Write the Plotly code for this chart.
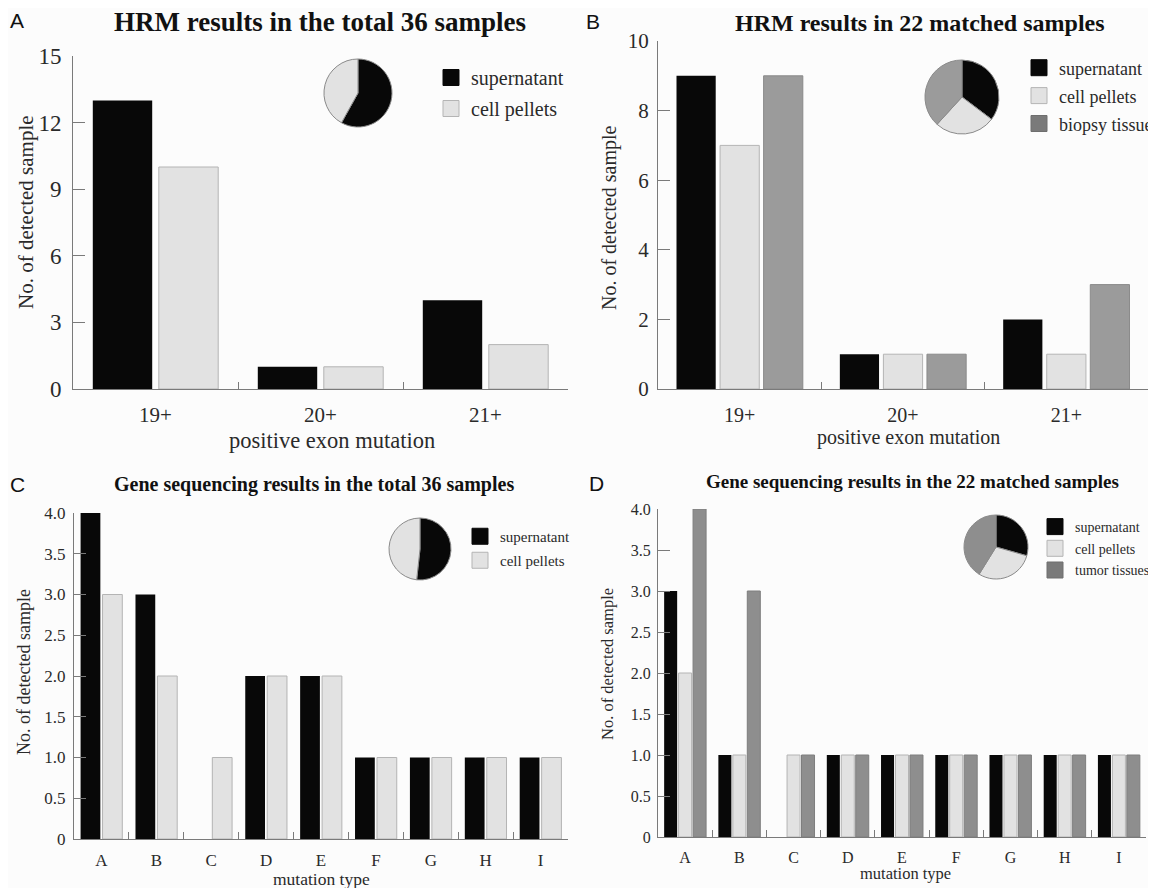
import plotly.graph_objects as go

# page body has an 8px default margin: the figure is sized so that the page
# exactly fills the 1156x888 window region it is shown in
REF_W, REF_H = 1156, 888
OFF = 8
W, H = REF_W - OFF, REF_H - OFF

# ---------------- data ----------------
hrm_cats = ["19+", "20+", "21+"]
hrm36_supernatant = [13, 1, 4]
hrm36_cell_pellets = [10, 1, 2]
hrm22_supernatant = [9, 1, 2]
hrm22_cell_pellets = [7, 1, 1]
hrm22_biopsy_tissue = [9, 1, 3]

seq_cats = ["A", "B", "C", "D", "E", "F", "G", "H", "I"]
seq36_supernatant = [4, 3, 0, 2, 2, 1, 1, 1, 1]
seq36_cell_pellets = [3, 2, 1, 2, 2, 1, 1, 1, 1]
seq22_supernatant = [3, 1, 0, 1, 1, 1, 1, 1, 1]
seq22_cell_pellets = [2, 1, 1, 1, 1, 1, 1, 1, 1]
seq22_tumor_tissues = [4, 3, 1, 1, 1, 1, 1, 1, 1]

hrm36_yticks = [0, 3, 6, 9, 12, 15]
hrm22_yticks = [0, 2, 4, 6, 8, 10]
seq_yticks = [0, 0.5, 1.0, 1.5, 2.0, 2.5, 3.0, 3.5, 4.0]
seq_yticktext = ["0", "0.5", "1.0", "1.5", "2.0", "2.5", "3.0", "3.5", "4.0"]

# ---------------- styles ----------------
SERIF = "Liberation Serif, Times New Roman, serif"
SANS = "Liberation Sans, Arial, sans-serif"
BG = "#fcfcfc"
BLACK = "#080808"
LIGHT = "#e2e2e2"
LIGHT_LINE = "#b4b4b4"
GRAY_B = "#9b9b9b"
GRAY_D = "#8e8e8e"
KEY_GRAY = "#7a7a7a"
AXIS = "#7a7a7a"
TXT = "#2a2a2a"


def fx(px):
    return (px - OFF) / W


def fy(py):
    return 1 - (py - OFF) / H


fig = go.Figure()


def bar(name, cats, vals, color, lcolor, lw, xa, ya):
    fig.add_trace(go.Bar(
        name=name, x=cats, y=vals, xaxis=xa, yaxis=ya,
        marker=dict(color=color, line=dict(color=lcolor, width=lw)),
        showlegend=False, hoverinfo="x+y+name",
    ))


def key(name, color, lcolor, xa, ya, legend):
    # legend swatch for the bar series of the same name
    fig.add_trace(go.Scatter(
        name=name, x=[None], y=[None], xaxis=xa, yaxis=ya, mode="markers",
        marker=dict(symbol="square", size=16, color=color,
                    line=dict(color=lcolor, width=1)),
        legend=legend, legendgroup=legend + name, showlegend=True,
        hoverinfo="skip",
    ))


# Panel A
bar("supernatant", hrm_cats, hrm36_supernatant, BLACK, BLACK, 0, "x", "y")
bar("cell pellets", hrm_cats, hrm36_cell_pellets, LIGHT, LIGHT_LINE, 1, "x", "y")
key("supernatant", BLACK, BLACK, "x", "y", "legend")
key("cell pellets", LIGHT, LIGHT_LINE, "x", "y", "legend")
# Panel B
bar("supernatant", hrm_cats, hrm22_supernatant, BLACK, BLACK, 0, "x2", "y2")
bar("cell pellets", hrm_cats, hrm22_cell_pellets, LIGHT, LIGHT_LINE, 1, "x2", "y2")
bar("biopsy tissue", hrm_cats, hrm22_biopsy_tissue, GRAY_B, "#8a8a8a", 1, "x2", "y2")
key("supernatant", BLACK, BLACK, "x2", "y2", "legend2")
key("cell pellets", LIGHT, LIGHT_LINE, "x2", "y2", "legend2")
key("biopsy tissue", KEY_GRAY, "#6e6e6e", "x2", "y2", "legend2")
# Panel C
bar("supernatant", seq_cats, seq36_supernatant, BLACK, BLACK, 0, "x3", "y3")
bar("cell pellets", seq_cats, seq36_cell_pellets, LIGHT, LIGHT_LINE, 1, "x3", "y3")
key("supernatant", BLACK, BLACK, "x3", "y3", "legend3")
key("cell pellets", LIGHT, LIGHT_LINE, "x3", "y3", "legend3")
# Panel D
bar("supernatant", seq_cats, seq22_supernatant, BLACK, BLACK, 0, "x4", "y4")
bar("cell pellets", seq_cats, seq22_cell_pellets, LIGHT, LIGHT_LINE, 1, "x4", "y4")
bar("tumor tissues", seq_cats, seq22_tumor_tissues, GRAY_D, "#7e7e7e", 1, "x4", "y4")
key("supernatant", BLACK, BLACK, "x4", "y4", "legend4")
key("cell pellets", LIGHT, LIGHT_LINE, "x4", "y4", "legend4")
key("tumor tissues", KEY_GRAY, "#6e6e6e", "x4", "y4", "legend4")


# Pies (totals of each series)
def pie(labels, values, colors, cx, cy, r):
    fig.add_trace(go.Pie(
        labels=labels, values=values, sort=False, direction="clockwise",
        rotation=0, textinfo="none", showlegend=False,
        marker=dict(colors=colors, line=dict(color="#8a8a8a", width=1)),
        domain=dict(x=[fx(cx - r), fx(cx + r)], y=[fy(cy + r), fy(cy - r)]),
        hoverinfo="label+value+percent",
    ))


pie(["supernatant", "cell pellets"],
    [sum(hrm36_supernatant), sum(hrm36_cell_pellets)],
    [BLACK, LIGHT], 358, 93, 34)
pie(["supernatant", "cell pellets", "biopsy tissue"],
    [sum(hrm22_supernatant), sum(hrm22_cell_pellets), sum(hrm22_biopsy_tissue)],
    [BLACK, LIGHT, GRAY_B], 962, 97, 37)
pie(["supernatant", "cell pellets"],
    [sum(seq36_supernatant), sum(seq36_cell_pellets)],
    [BLACK, LIGHT], 420, 549, 31)
pie(["supernatant", "cell pellets", "tumor tissues"],
    [sum(seq22_supernatant), sum(seq22_cell_pellets), sum(seq22_tumor_tissues)],
    [BLACK, LIGHT, GRAY_D], 996, 547, 32)


def xaxis(x0, x1, anchor, fsize, standoff):
    return dict(
        domain=[fx(x0), fx(x1)], anchor=anchor, type="category",
        showline=True, linecolor=AXIS, linewidth=1,
        ticks="inside", tickson="boundaries", ticklen=7, tickcolor=AXIS,
        tickfont=dict(family=SERIF, size=fsize, color=TXT),
        ticklabelstandoff=standoff, showgrid=False, zeroline=False,
        fixedrange=True, automargin=False,
    )


def yaxis(y0px, y1px, anchor, rng, tickvals, ticktext, fsize, standoff):
    return dict(
        domain=[fy(y0px), fy(y1px)], anchor=anchor, range=rng,
        tickvals=tickvals, ticktext=ticktext,
        showline=True, linecolor=AXIS, linewidth=1,
        ticks="inside", ticklen=12, tickcolor=AXIS,
        tickfont=dict(family=SERIF, size=fsize, color=TXT),
        ticklabelstandoff=standoff, showgrid=False, zeroline=False,
        fixedrange=True, automargin=False,
    )


def legend(xpx, ypx, fsize, gap):
    return dict(
        x=fx(xpx), y=fy(ypx), xanchor="left", yanchor="top",
        bgcolor="rgba(0,0,0,0)", borderwidth=0,
        font=dict(family=SERIF, size=fsize, color=TXT),
        tracegroupgap=gap, itemclick=False, itemdoubleclick=False,
        itemsizing="trace",
    )


annotations = []


def text(s, xpx, ypx, size, family=SERIF, angle=0, color=TXT):
    annotations.append(dict(
        text=s, x=fx(xpx), y=fy(ypx), xref="paper", yref="paper",
        showarrow=False, xanchor="center", yanchor="middle",
        font=dict(family=family, size=size, color=color), textangle=angle,
    ))


# panel letters
text("A", 17, 21, 21, SANS, color="#111")
text("B", 593, 22, 21, SANS, color="#111")
text("C", 17, 485, 21, SANS, color="#111")
text("D", 597, 483, 21, SANS, color="#111")
# titles
text("<b>HRM results in the total 36 samples</b>", 320, 22, 27, color="#111")
text("<b>HRM results in 22 matched samples</b>", 920, 23, 24, color="#111")
text("<b>Gene sequencing results in the total 36 samples</b>", 314, 484, 20, color="#111")
text("<b>Gene sequencing results in the 22 matched samples</b>", 912, 481, 19, color="#111")
# axis titles
text("positive exon mutation", 332, 440, 22.5)
text("positive exon mutation", 908, 437, 20)
text("mutation type", 322, 879, 17.5)
text("mutation type", 905, 873, 16.5)
text("No. of detected sample", 26, 212, 21, angle=-90)
text("No. of detected sample", 609, 218, 20, angle=-90)
text("No. of detected sample", 24, 672, 18, angle=-90)
text("No. of detected sample", 607, 664, 16.5, angle=-90)

fig.update_layout(
    width=W, height=H,
    margin=dict(l=0, r=0, t=0, b=0, autoexpand=False),
    paper_bgcolor=BG, plot_bgcolor=BG,
    barmode="group", bargap=0.2, bargroupgap=0.1,
    xaxis=xaxis(73, 568, "y", 21, 7),
    yaxis=yaxis(389, 56, "x", [0, 15], hrm36_yticks, [str(v) for v in hrm36_yticks], 23, 6),
    xaxis2=xaxis(658, 1148, "y2", 20, 8),
    yaxis2=yaxis(389, 41, "x2", [0, 10], hrm22_yticks, [str(v) for v in hrm22_yticks], 21, 4),
    xaxis3=xaxis(74, 568, "y3", 17, 6),
    yaxis3=yaxis(839, 513, "x3", [0, 4], seq_yticks, seq_yticktext, 17, 4),
    xaxis4=xaxis(658, 1146, "y4", 16, 6),
    yaxis4=yaxis(837, 509, "x4", [0, 4], seq_yticks, seq_yticktext, 16, 3),
    legend=legend(431, 58, 20, 2),
    legend2=legend(1019, 49.5, 18, 1.5),
    legend3=legend(460, 520, 15, 1.5),
    legend4=legend(1035, 511, 14, 0.5),
    annotations=annotations,
    font=dict(family=SERIF, color=TXT),
    showlegend=True,
)

fig.write_html("out.html")
